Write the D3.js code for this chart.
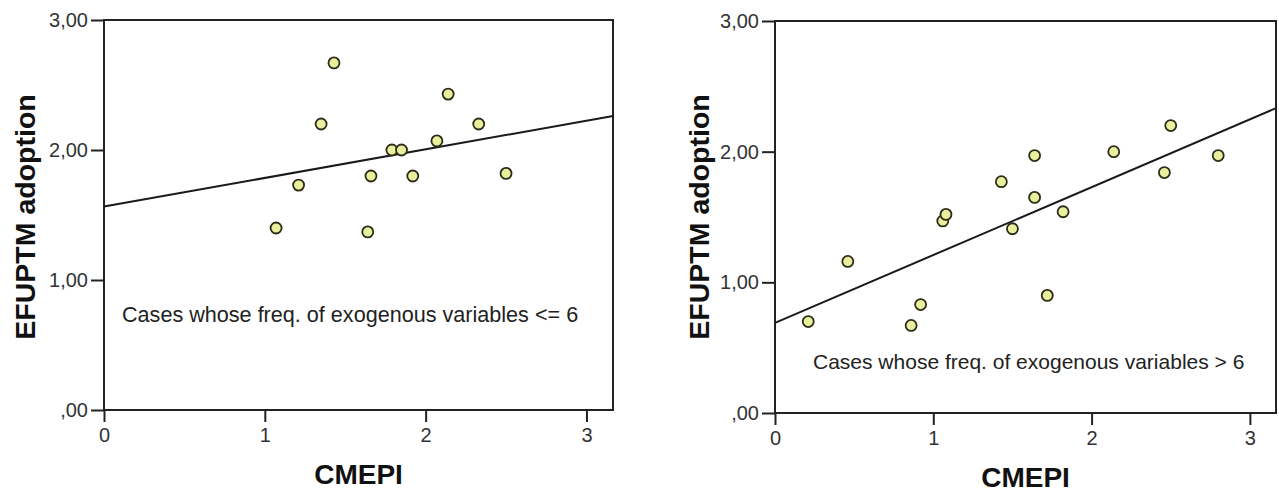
<!DOCTYPE html>
<html>
<head>
<meta charset="utf-8">
<script src="https://cdn.jsdelivr.net/npm/d3@7"></script>
<style>
  body { margin: 0; background: #fff; }
  svg { display: block; font-family: Arial, "Liberation Sans", sans-serif; }
  .tick text { fill: #333; font-size: 20px; }
  .tick line { stroke: #222; stroke-width: 2px; }
</style>
</head>
<body>
<svg id="chart" width="1279" height="495"></svg>
<script>
// values
var xTicks = [0, 1, 2, 3];
var yTicks = [0, 1, 2, 3];
var yTickLabels = [',00', '1,00', '2,00', '3,00'];

// cases with freq. of exogenous variables <= 6
var lowX = [1.07, 1.21, 1.35, 1.43, 1.64, 1.66, 1.79, 1.85, 1.92, 2.07, 2.14, 2.33, 2.50];
var lowY = [1.40, 1.73, 2.20, 2.67, 1.37, 1.80, 2.00, 2.00, 1.80, 2.07, 2.43, 2.20, 1.82];
var lowFit = [1.565, 0.22]; // intercept, slope

// cases with freq. of exogenous variables > 6
var highX = [0.21, 0.46, 0.86, 0.92, 1.06, 1.08, 1.43, 1.50, 1.64, 1.64, 1.72, 1.82, 2.14, 2.46, 2.50, 2.80];
var highY = [0.70, 1.16, 0.67, 0.83, 1.47, 1.52, 1.77, 1.41, 1.97, 1.65, 0.90, 1.54, 2.00, 1.84, 2.20, 1.97];
var highFit = [0.69, 0.519];

var xLabel = 'CMEPI';
var yLabel = 'EFUPTM adoption';
var notes = ['Cases whose freq. of exogenous variables <= 6', 'Cases whose freq. of exogenous variables > 6'];

var svg = d3.select('#chart');

var drawPanel = function (p) {
  var x = d3.scaleLinear().domain([0, 3.165]).range([p.left, p.right]);
  var y = d3.scaleLinear().domain([0, 3]).range([p.bottom, p.top]);
  var g = svg.append('g');

  // ticks
  g.append('g')
      .attr('transform', 'translate(0,' + p.bottom + ')')
      .call(d3.axisBottom(x).tickValues(xTicks).tickFormat(d3.format('d'))
          .tickSize(12).tickSizeOuter(0).tickPadding(6))
      .call(function (a) { a.select('.domain').remove(); });
  g.append('g')
      .attr('transform', 'translate(' + p.left + ',0)')
      .call(d3.axisLeft(y).tickValues(yTicks)
          .tickFormat(function (d, i) { return yTickLabels[i]; })
          .tickSize(13).tickSizeOuter(0).tickPadding(3))
      .call(function (a) { a.select('.domain').remove(); });

  // frame
  g.append('rect')
      .attr('x', p.left).attr('y', p.top)
      .attr('width', p.right - p.left).attr('height', p.bottom - p.top)
      .attr('fill', 'none').attr('stroke', '#222').attr('stroke-width', 2);

  // fit line
  var x1 = x.domain()[1];
  g.append('line')
      .attr('x1', x(0)).attr('y1', y(p.fit[0]))
      .attr('x2', x(x1)).attr('y2', y(p.fit[0] + p.fit[1] * x1))
      .attr('stroke', '#1a1a1a').attr('stroke-width', 2);

  // points
  g.selectAll('circle').data(p.xs).enter().append('circle')
      .attr('cx', function (d) { return x(d); })
      .attr('cy', function (d, i) { return y(p.ys[i]); })
      .attr('r', 5.5)
      .attr('fill', '#e8f09e')
      .attr('stroke', '#2c2c18')
      .attr('stroke-width', 1.8);

  // note
  g.append('text')
      .attr('x', p.noteX).attr('y', p.noteY)
      .attr('font-size', p.noteSize).attr('fill', '#222')
      .text(p.note);

  // axis titles
  g.append('text')
      .attr('x', (p.left + p.right) / 2).attr('y', p.xTitleY)
      .attr('text-anchor', 'middle')
      .attr('font-size', 28).attr('font-weight', 'bold').attr('fill', '#111')
      .text(xLabel);
  g.append('text')
      .attr('transform', 'translate(' + p.yTitleX + ',217) rotate(-90)')
      .attr('text-anchor', 'middle')
      .attr('font-size', 28.5).attr('font-weight', 'bold').attr('fill', '#111')
      .text(yLabel);
};

drawPanel({left: 104, right: 613, top: 20, bottom: 410, xs: lowX, ys: lowY, fit: lowFit,
  note: notes[0], noteX: 122, noteY: 322, noteSize: 21.6, xTitleY: 484, yTitleX: 35});
drawPanel({left: 775, right: 1276, top: 21, bottom: 413, xs: highX, ys: highY, fit: highFit,
  note: notes[1], noteX: 813, noteY: 369, noteSize: 21, xTitleY: 487, yTitleX: 709});
</script>
</body>
</html>
